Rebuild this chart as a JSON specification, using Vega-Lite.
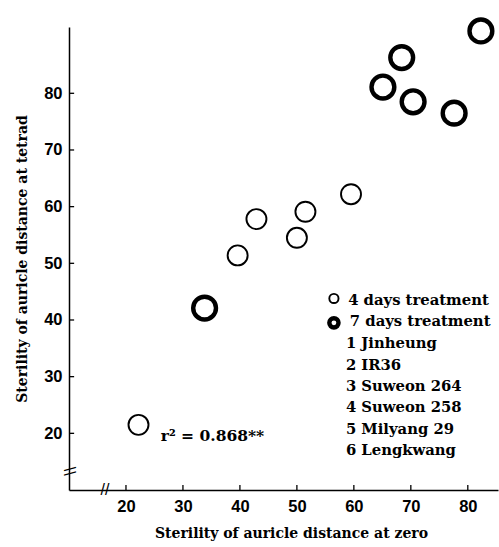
{
  "$schema": "https://vega.github.io/schema/vega-lite/v6.json",
  "width": 429,
  "height": 463,
  "autosize": {"type": "none"},
  "padding": {"left": 69, "top": 27, "right": 1, "bottom": 57},
  "background": "white",
  "config": {
    "view": {"stroke": null},
    "axis": {
      "grid": false,
      "ticks": false,
      "tickSize": 0,
      "domainColor": "black",
      "domainWidth": 1.5,
      "labelFont": "Liberation Sans",
      "labelFontWeight": "bold",
      "labelFontSize": 16.5,
      "labelColor": "black",
      "titleFont": "DejaVu Serif",
      "titleFontWeight": "bold",
      "titleFontSize": 14,
      "titleColor": "black"
    }
  },
  "layer": [
    {
      "data": {
        "values": [
          {"zero": 22.2, "tetrad": 21.5, "treatment": "4 days treatment"},
          {"zero": 39.6, "tetrad": 51.4, "treatment": "4 days treatment"},
          {"zero": 42.9, "tetrad": 57.8, "treatment": "4 days treatment"},
          {"zero": 50.0, "tetrad": 54.5, "treatment": "4 days treatment"},
          {"zero": 51.5, "tetrad": 59.1, "treatment": "4 days treatment"},
          {"zero": 59.5, "tetrad": 62.2, "treatment": "4 days treatment"},
          {"zero": 33.8, "tetrad": 42.1, "treatment": "7 days treatment"},
          {"zero": 65.1, "tetrad": 81.1, "treatment": "7 days treatment"},
          {"zero": 68.4, "tetrad": 86.3, "treatment": "7 days treatment"},
          {"zero": 70.4, "tetrad": 78.5, "treatment": "7 days treatment"},
          {"zero": 77.6, "tetrad": 76.5, "treatment": "7 days treatment"},
          {"zero": 82.3, "tetrad": 91.0, "treatment": "7 days treatment"}
        ]
      },
      "mark": {"type": "point", "shape": "circle", "filled": false, "stroke": "black", "opacity": 1},
      "encoding": {
        "x": {
          "field": "zero", "type": "quantitative",
          "scale": {"domain": [10, 85.3], "nice": false, "zero": false},
          "axis": {
            "values": [20, 30, 40, 50, 60, 70, 80],
            "labelPadding": 8,
            "title": "Sterility of auricle distance at zero",
            "titlePadding": 12,
            "titleX": 222
          }
        },
        "y": {
          "field": "tetrad", "type": "quantitative",
          "scale": {"domain": [10, 91.7], "nice": false, "zero": false},
          "axis": {
            "values": [20, 30, 40, 50, 60, 70, 80],
            "labelPadding": 7,
            "title": "Sterility of auricle distance at tetrad",
            "titlePadding": 14
          }
        },
        "size": {
          "field": "treatment", "type": "nominal",
          "scale": {"domain": ["4 days treatment", "7 days treatment"], "range": [400, 520]},
          "legend": null
        },
        "strokeWidth": {
          "field": "treatment", "type": "nominal",
          "scale": {"domain": ["4 days treatment", "7 days treatment"], "range": [1.9, 4.4]},
          "legend": null
        }
      }
    },
    {
      "data": {"values": [{"tick": 20}, {"tick": 30}, {"tick": 40}, {"tick": 50}, {"tick": 60}, {"tick": 70}, {"tick": 80}]},
      "mark": {"type": "rule", "color": "black", "strokeWidth": 1.3},
      "encoding": {
        "x": {"field": "tick", "type": "quantitative"},
        "y": {"datum": 10},
        "y2": {"datum": 10.9}
      }
    },
    {
      "data": {"values": [{"tick": 20}, {"tick": 30}, {"tick": 40}, {"tick": 50}, {"tick": 60}, {"tick": 70}, {"tick": 80}]},
      "mark": {"type": "rule", "color": "black", "strokeWidth": 1.3},
      "encoding": {
        "y": {"field": "tick", "type": "quantitative"},
        "x": {"datum": 10},
        "x2": {"datum": 10.9}
      }
    },
    {
      "data": {
        "values": [
          {"zero": 56.5, "tetrad": 43.8, "treatment": "4 days treatment"},
          {"zero": 56.5, "tetrad": 39.5, "treatment": "7 days treatment"}
        ]
      },
      "mark": {"type": "point", "shape": "circle", "filled": false, "stroke": "black", "opacity": 1, "size": 85},
      "encoding": {
        "x": {"field": "zero", "type": "quantitative"},
        "y": {"field": "tetrad", "type": "quantitative"},
        "strokeWidth": {"field": "treatment", "type": "nominal", "legend": null}
      }
    },
    {
      "data": {
        "values": [
          {"zero": 59.0, "tetrad": 43.4, "label": "4 days treatment"},
          {"zero": 59.3, "tetrad": 39.6, "label": "7 days treatment"},
          {"zero": 58.6, "tetrad": 35.76, "label": "1 Jinheung"},
          {"zero": 58.6, "tetrad": 31.93, "label": "2 IR36"},
          {"zero": 58.6, "tetrad": 28.23, "label": "3 Suweon 264"},
          {"zero": 58.6, "tetrad": 24.52, "label": "4 Suweon 258"},
          {"zero": 58.6, "tetrad": 20.59, "label": "5 Milyang 29"},
          {"zero": 58.6, "tetrad": 16.88, "label": "6 Lengkwang"}
        ]
      },
      "mark": {"type": "text", "align": "left", "baseline": "middle", "font": "DejaVu Serif", "fontWeight": "bold", "fontSize": 14.8, "color": "black"},
      "encoding": {
        "x": {"field": "zero", "type": "quantitative"},
        "y": {"field": "tetrad", "type": "quantitative"},
        "text": {"field": "label"},
        "fontStyle": {"condition": {"test": "datum.label === '5 Milyang 29'", "value": "italic"}, "value": "normal"}
      }
    },
    {
      "data": {"values": [{"zero": 26.1, "tetrad": 19.5, "label": "r²  = 0.868**"}]},
      "mark": {"type": "text", "align": "left", "baseline": "middle", "font": "DejaVu Serif", "fontWeight": "bold", "fontSize": 15.5, "color": "black"},
      "encoding": {
        "x": {"field": "zero", "type": "quantitative"},
        "y": {"field": "tetrad", "type": "quantitative"},
        "text": {"field": "label"}
      }
    },
    {
      "data": {
        "values": [
          {"zero": 16.3, "tetrad": 10, "mark": "//", "turn": 0},
          {"zero": 10, "tetrad": 13.3, "mark": "\\\\", "turn": 90}
        ]
      },
      "mark": {"type": "text", "align": "center", "baseline": "middle", "font": "Liberation Sans", "fontSize": 16, "color": "black"},
      "encoding": {
        "x": {"field": "zero", "type": "quantitative"},
        "y": {"field": "tetrad", "type": "quantitative"},
        "text": {"field": "mark"},
        "angle": {"field": "turn", "type": "quantitative", "scale": null}
      }
    }
  ]
}
